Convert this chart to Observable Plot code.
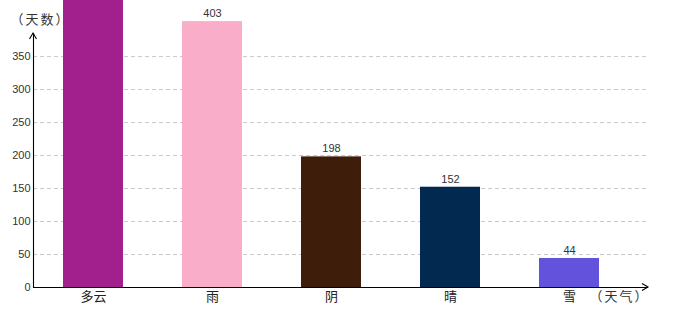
<!DOCTYPE html>
<html><head><meta charset="utf-8">
<script src="https://cdn.jsdelivr.net/npm/d3@7"></script>
<script src="https://cdn.jsdelivr.net/npm/@observablehq/plot@0.6"></script>
<style>
body{margin:0;background:#fff}
#chart svg{overflow:hidden;display:block}
#chart svg .axlabel text{letter-spacing:2px}
</style></head><body><div id="chart"></div>
<script>
const categories = ["多云", "雨", "阴", "晴", "雪"];
const values = [520, 403, 198, 152, 44];
const colors = ["#a21f8e", "#f9adc9", "#3e1e0b", "#022a51", "#6353dc"];
const yTicks = [0, 50, 100, 150, 200, 250, 300, 350];
const yLabel = "（天数）";
const xLabel = "（天气）";
const yMax = 385;
const data = categories.map((c, i) => ({category: c, value: values[i], color: colors[i]}));

const cjk = "'Noto Sans CJK SC', sans-serif";
const plot = Plot.plot({
  width: 680, height: 320,
  marginLeft: 33, marginRight: 32, marginTop: 33, marginBottom: 33,
  style: {fontFamily: "'Liberation Sans', Arial, sans-serif", fontSize: "11px", color: "#333", background: "#fff", overflow: "hidden"},
  x: {type: "band", domain: categories, paddingInner: 0.5, paddingOuter: 0.334, align: 0.377, axis: null},
  y: {domain: [0, yMax], axis: null},
  marks: [
    Plot.gridY(yTicks, {stroke: "#c8c8c8", strokeOpacity: 1, strokeDasharray: "4,3"}),
    Plot.barY(data, {x: "category", y: "value", fill: "color"}),
    Plot.text(data, {filter: d => d.value < yMax + 40, x: "category", y: "value", text: d => String(d.value), dy: -8, fill: "#333", fontSize: 11}),
    Plot.axisY(yTicks, {tickSize: 0, tickPadding: 3, label: null, fill: "#333", fontSize: 11}),
    Plot.axisX({tickSize: 0, tickPadding: 4, label: null, fontFamily: cjk, fontSize: 13, fill: "#222"}),
    Plot.ruleY([0], {stroke: "#000", strokeWidth: 1.1}),
    Plot.frame({anchor: "left", stroke: "#000", strokeWidth: 1.1}),
    Plot.text([yLabel], {className: "axlabel", frameAnchor: "top-left", textAnchor: "start", dx: -23, dy: -19, fontFamily: cjk, fontSize: 13, fill: "#333"}),
    Plot.text([xLabel], {className: "axlabel", frameAnchor: "bottom-right", textAnchor: "end", dx: 1, dy: 13, fontFamily: cjk, fontSize: 13, fill: "#333"})
  ]
});
document.getElementById("chart").append(plot);

// axis arrowheads (decoration)
const sy = plot.scale("y");
const svg = d3.select(plot);
const x0 = 33, y0 = sy.apply(0), xEnd = 680 - 32, yTop = 33;
svg.append("path").attr("d", `M${xEnd - 6},${y0 - 3.5}L${xEnd},${y0}L${xEnd - 6},${y0 + 3.5}`)
  .attr("fill", "none").attr("stroke", "#000").attr("stroke-width", 1.1);
svg.append("path").attr("d", `M${x0 - 3.5},${yTop + 6}L${x0},${yTop}L${x0 + 3.5},${yTop + 6}`)
  .attr("fill", "none").attr("stroke", "#000").attr("stroke-width", 1.1);
</script></body></html>
